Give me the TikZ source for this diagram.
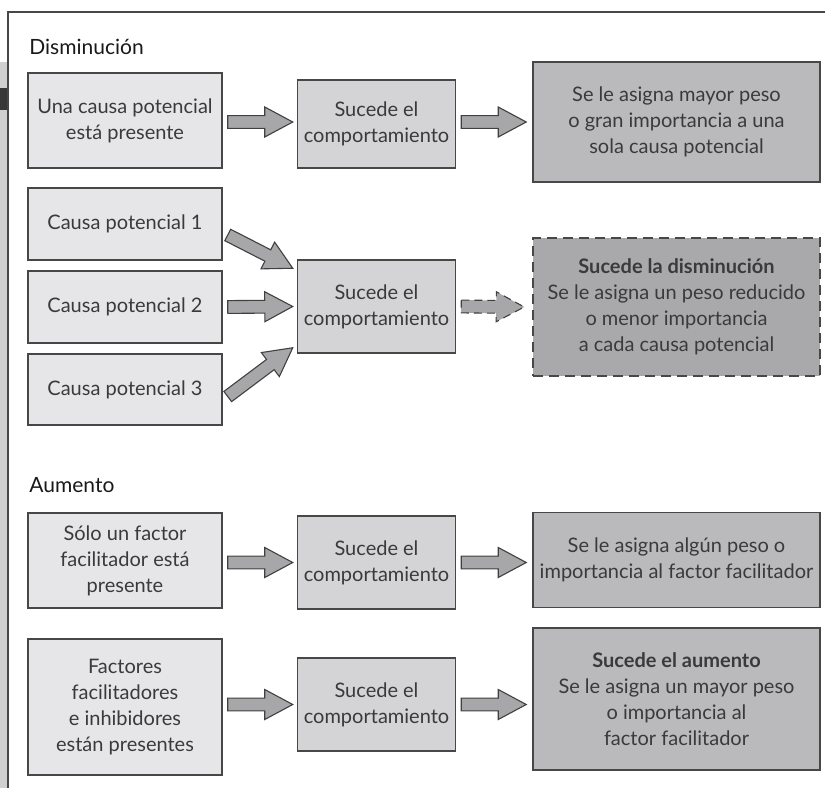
\documentclass[tikz,border=0pt]{standalone}
\usepackage{fontspec}
\setmainfont{Lato}
\usepackage{tikz}
\usetikzlibrary{calc}
\definecolor{boxLight}{HTML}{E6E6E8}
\definecolor{boxMid}{HTML}{D4D4D6}
\definecolor{boxDark}{HTML}{BABABD}
\definecolor{boxDarker}{HTML}{A9A9AC}
\definecolor{arrowGray}{HTML}{A7A7AA}
\definecolor{edgeGray}{HTML}{474747}
\definecolor{inkGray}{HTML}{3A3A3A}
\definecolor{stripGray}{HTML}{D0D0D0}

% block arrow from #2 to #3
\newcommand{\fatarrow}[3][]{%
	\coordinate (fa-s) at (#2);
	\coordinate (fa-t) at (#3);
	\coordinate (fa-h) at ($(fa-t)!14pt!(fa-s)$);
	\filldraw[fatarr,#1] ($(fa-s)!3.2pt!90:(fa-t)$) -- ($(fa-h)!3.2pt!90:(fa-t)$) -- ($(fa-h)!7.5pt!90:(fa-t)$) -- (fa-t)
		-- ($(fa-h)!7.5pt!-90:(fa-t)$) -- ($(fa-h)!3.2pt!-90:(fa-t)$) -- ($(fa-s)!3.2pt!-90:(fa-t)$) -- cycle;
}

\tikzset{
	box/.style={draw=edgeGray, line width=0.75pt, text=inkGray, align=center, inner sep=2pt,
		font=\fontsize{10}{13}\selectfont},
	leftbox/.style={box, fill=boxLight, minimum width=97pt},
	midbox/.style={box, fill=boxMid, minimum width=79pt},
	rightbox/.style={box, fill=boxDark, minimum width=143.5pt},
	title/.style={anchor=west, text=black!90, inner sep=0pt, font=\fontsize{10.5}{12}\selectfont},
	fatarr/.style={fill=arrowGray, draw=black!75, line width=0.55pt, line join=miter},
}

\begin{document}
\begin{tikzpicture}[x=0.5pt, y=-0.5pt]
	\useasboundingbox (0,0) rectangle (825,788);

	\fill[stripGray] (0,62) rectangle (7,788);
	\fill[black!78] (0,88) rectangle (7,110);
	\draw[edgeGray, line width=1pt] (8,788) -- (8,12) -- (825,12);

	% Disminucion
	\node[title] (dis-title) at (29,47) {Disminución};

	\node[leftbox, minimum height=47.5pt] (dis-pres) at (125,120.5) {Una causa potencial\\está presente};
	\node[midbox, minimum height=44pt] (dis-comp) at (376.5,124) {Sucede el\\comportamiento};
	\node[rightbox, minimum height=60pt] (dis-peso) at (676.5,122) {Se le asigna mayor peso\\o gran importancia a una\\sola causa potencial};

	\fatarrow{$(dis-pres.east|-dis-peso.west)+(2.5pt,0)$}{$(dis-comp.west|-dis-peso.west)+(-2pt,0)$}
	\fatarrow{$(dis-comp.east|-dis-peso.west)+(2.5pt,0)$}{$(dis-peso.west)+(-3pt,0)$}

	\node[leftbox, minimum height=36pt] (cau1) at (125,224) {Causa potencial 1};
	\node[leftbox, minimum height=36pt] (cau2) at (125,307) {Causa potencial 2};
	\node[leftbox, minimum height=35.5pt] (cau3) at (125,389.5) {Causa potencial 3};
	\node[midbox, minimum height=46.5pt] (dis-comp2) at (376.5,306.5) {Sucede el\\comportamiento};
	\node[rightbox, fill=boxDarker, dashed, dash pattern=on 5pt off 3pt, minimum height=69pt] (dis-res) at (676.5,307)
		{\textbf{Sucede la disminución}\\Se le asigna un peso reducido\\o menor importancia\\a cada causa potencial};

	\fatarrow{$(cau1.east)+(2.5pt,-5.5pt)$}{$(dis-comp2.north west)+(-2pt,-4.5pt)$}
	\fatarrow{$(cau2.east)+(2.5pt,0)$}{$(dis-comp2.west)+(-2pt,0)$}
	\fatarrow{$(cau3.east)+(2.5pt,-3.5pt)$}{$(dis-comp2.south west)+(-2pt,3pt)$}
	\fatarrow[dashed, dash pattern=on 4pt off 2.5pt]{$(dis-comp2.east)+(2.5pt,0)$}{$(dis-res.west)+(-4pt,0)$}

	% Aumento
	\node[title] (aum-title) at (29,485) {Aumento};

	\node[leftbox, minimum height=47.5pt] (aum-fac) at (125,560.5) {Sólo un factor\\facilitador está\\presente};
	\node[midbox, minimum height=46.5pt] (aum-comp) at (376.5,562.5) {Sucede el\\comportamiento};
	\node[rightbox, minimum height=47.5pt] (aum-peso) at (676.5,560) {Se le asigna algún peso o\\importancia al factor facilitador};

	\fatarrow{$(aum-fac.east|-aum-comp.west)+(2.5pt,0)$}{$(aum-comp.west)+(-2pt,0)$}
	\fatarrow{$(aum-comp.east)+(2.5pt,0)$}{$(aum-peso.west|-aum-comp.east)+(-3pt,0)$}

	\node[leftbox, minimum height=68pt] (aum-fac2) at (125,707) {Factores\\facilitadores\\e inhibidores\\están presentes};
	\node[midbox, minimum height=46.5pt] (aum-comp2) at (376.5,704.5) {Sucede el\\comportamiento};
	\node[rightbox, minimum height=71pt] (aum-res) at (676.5,699)
		{\textbf{Sucede el aumento}\\Se le asigna un mayor peso\\o importancia al\\factor facilitador};

	\fatarrow{$(aum-fac2.east|-aum-comp2.west)+(2.5pt,0)$}{$(aum-comp2.west)+(-2pt,0)$}
	\fatarrow{$(aum-comp2.east)+(2.5pt,0)$}{$(aum-res.west|-aum-comp2.east)+(-3pt,0)$}

\end{tikzpicture}
\end{document}
